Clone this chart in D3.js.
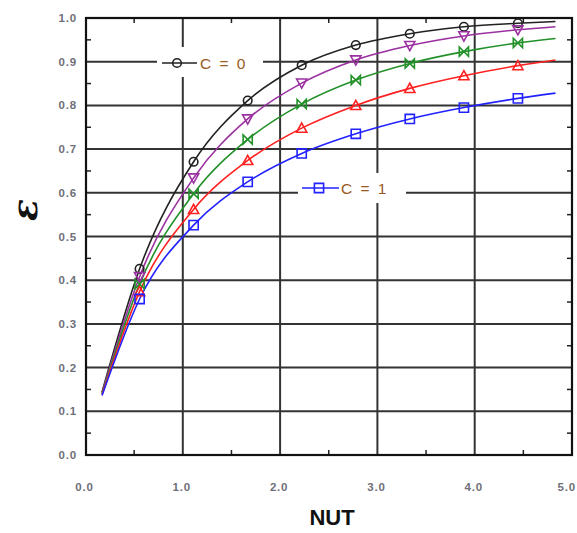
<!DOCTYPE html>
<html><head><meta charset="utf-8">
<script src="https://cdn.jsdelivr.net/npm/d3@7/dist/d3.min.js"></script>
<style>body{margin:0;background:#fff}svg{display:block}</style>
</head><body>
<svg id="chart" width="577" height="533"></svg>
<script>
// ---- data ----
const markerNTU = [0.556, 1.111, 1.667, 2.222, 2.778, 3.333, 3.889, 4.444];
const lineStartNTU = 0.17;
const lineEndNTU = 4.83;
const seriesNames = ["C = 0", "C = 0.25", "C = 0.5", "C = 0.75", "C = 1"];
const effC0   = [0.426, 0.671, 0.811, 0.892, 0.938, 0.964, 0.980, 0.988];
const effC025 = [0.408, 0.634, 0.769, 0.851, 0.904, 0.937, 0.959, 0.973];
const effC05  = [0.391, 0.598, 0.722, 0.803, 0.858, 0.896, 0.923, 0.943];
const effC075 = [0.374, 0.562, 0.674, 0.748, 0.800, 0.839, 0.868, 0.891];
const effC1   = [0.357, 0.526, 0.625, 0.690, 0.735, 0.769, 0.795, 0.816];
const startEff = [0.144, 0.142, 0.140, 0.138, 0.136];
const endEff   = [0.992, 0.980, 0.953, 0.904, 0.828];
const xTicks = [0, 1, 2, 3, 4, 5];
const yTicks = [0, 0.1, 0.2, 0.3, 0.4, 0.5, 0.6, 0.7, 0.8, 0.9, 1.0];
const xMinor = [0.5, 1.5, 2.5, 3.5, 4.5];
const yMinor = [0.05, 0.15, 0.25, 0.35, 0.45, 0.55, 0.65, 0.75, 0.85, 0.95];

const colors = ["#222222", "#9b30a0", "#23912a", "#ff2020", "#2222ff"];
const shapes = ["circle", "tridown", "bowtie", "triup", "square"];
const effArrays = [effC0, effC025, effC05, effC075, effC1];

const svg = d3.select("#chart");
const L = 86, R = 572, T = 18, B = 455;
const x = d3.scaleLinear().domain([0, 5]).range([85.5, 572]);
const y = d3.scaleLinear().domain([0, 1]).range([455, 18]);

// grid
const grid = svg.append("g").attr("stroke", "#333").attr("stroke-width", 2);
xTicks.slice(1, -1).forEach(v => grid.append("line").attr("x1", x(v)).attr("x2", x(v)).attr("y1", T).attr("y2", B));
yTicks.slice(1, -1).forEach(v => grid.append("line").attr("x1", L).attr("x2", R).attr("y1", y(v)).attr("y2", y(v)));

// minor ticks
const mt = svg.append("g").attr("stroke", "#222").attr("stroke-width", 1.5);
xMinor.forEach(v => {
  mt.append("line").attr("x1", x(v)).attr("x2", x(v)).attr("y1", B).attr("y2", B - 5);
  mt.append("line").attr("x1", x(v)).attr("x2", x(v)).attr("y1", T).attr("y2", T + 5);
});
yMinor.forEach(v => {
  mt.append("line").attr("x1", L).attr("x2", L + 5).attr("y1", y(v)).attr("y2", y(v));
  mt.append("line").attr("x1", R).attr("x2", R - 5).attr("y1", y(v)).attr("y2", y(v));
});

// legend backgrounds (interrupt grid)
svg.append("rect").attr("x", 157).attr("y", 47).attr("width", 106).attr("height", 30).attr("fill", "#fff");
svg.append("rect").attr("x", 298).attr("y", 173).attr("width", 108).attr("height", 30).attr("fill", "#fff");

// frame
svg.append("rect").attr("x", L).attr("y", T).attr("width", R - L).attr("height", B - T)
  .attr("fill", "none").attr("stroke", "#111").attr("stroke-width", 2.2);

function drawMarker(g, shape, cx, cy, color) {
  const s = 4.6;
  if (shape === "circle") {
    g.append("circle").attr("cx", cx).attr("cy", cy).attr("r", 4.3)
      .attr("fill", "none").attr("stroke", color).attr("stroke-width", 1.6);
  } else {
    let p;
    if (shape === "square") p = `M${cx-s},${cy-s}H${cx+s}V${cy+s}H${cx-s}Z`;
    else if (shape === "triup") p = `M${cx},${cy-s-0.5}L${cx+s+0.5},${cy+s-0.5}L${cx-s-0.5},${cy+s-0.5}Z`;
    else if (shape === "tridown") p = `M${cx-s-0.5},${cy-s+0.5}L${cx+s+0.5},${cy-s+0.5}L${cx},${cy+s+0.5}Z`;
    else if (shape === "bowtie") p = `M${cx-s},${cy-s}L${cx+s},${cy+s}V${cy-s}L${cx-s},${cy+s}Z`;
    g.append("path").attr("d", p).attr("fill", "none").attr("stroke", color).attr("stroke-width", 1.6)
      .attr("stroke-linejoin", "miter");
  }
}

const line = d3.line().x(d => x(d[0])).y(d => y(d[1])).curve(d3.curveMonotoneX);

effArrays.forEach((arr, i) => {
  const pts = [[lineStartNTU, startEff[i]]].concat(markerNTU.map((n, k) => [n, arr[k]])).concat([[lineEndNTU, endEff[i]]]);
  svg.append("path").attr("d", line(pts)).attr("fill", "none")
    .attr("stroke", colors[i]).attr("stroke-width", 1.6);
});
effArrays.forEach((arr, i) => {
  const g = svg.append("g");
  markerNTU.forEach((n, k) => drawMarker(g, shapes[i], x(n), y(arr[k]), colors[i]));
});

// legends
const lg0 = svg.append("g");
lg0.append("line").attr("x1", 162).attr("x2", 197).attr("y1", 63).attr("y2", 63).attr("stroke", colors[0]).attr("stroke-width", 1.6);
drawMarker(lg0, "circle", 177, 63, colors[0]);
lg0.append("text").attr("x", 200).attr("y", 68.5).text(seriesNames[0]);
const lg1 = svg.append("g");
lg1.append("line").attr("x1", 302).attr("x2", 339).attr("y1", 188).attr("y2", 188).attr("stroke", colors[4]).attr("stroke-width", 1.6);
drawMarker(lg1, "square", 319, 188, colors[4]);
lg1.append("text").attr("x", 341).attr("y", 193.5).text(seriesNames[4]);
svg.selectAll("g text").attr("font-family", "Liberation Sans, Arial, sans-serif")
  .attr("font-size", 15.5).attr("fill", "#9a5a22").attr("letter-spacing", 1).attr("word-spacing", 2);

// tick labels
const tl = svg.append("g").attr("font-family", "Liberation Sans, Arial, sans-serif")
  .attr("font-size", 11.5).attr("font-weight", "bold").attr("fill", "#6f6f78").attr("letter-spacing", 0.8);
xTicks.forEach(v => {
  const t = tl.append("text").attr("y", 491).text(d3.format(".1f")(v));
  if (v === 5) t.attr("x", 576).attr("text-anchor", "end");
  else t.attr("x", x(v) - 1).attr("text-anchor", "middle");
});
yTicks.forEach(v => tl.append("text").attr("x", 77).attr("y", y(v) + 4).attr("text-anchor", "end").text(d3.format(".1f")(v)));

// axis titles
svg.append("text").attr("x", 332).attr("y", 525).attr("text-anchor", "middle")
  .attr("font-family", "Liberation Sans, Arial, sans-serif").attr("font-weight", "bold")
  .attr("font-size", 22).attr("fill", "#111").text("NUT");
svg.append("text").attr("transform", "translate(24,210) rotate(-90)").attr("text-anchor", "middle")
  .attr("dominant-baseline", "central")
  .attr("font-family", "DejaVu Serif, serif").attr("font-style", "italic").attr("font-weight", "bold")
  .attr("font-size", 36).attr("fill", "#111").text("ε");
</script>
</body></html>
